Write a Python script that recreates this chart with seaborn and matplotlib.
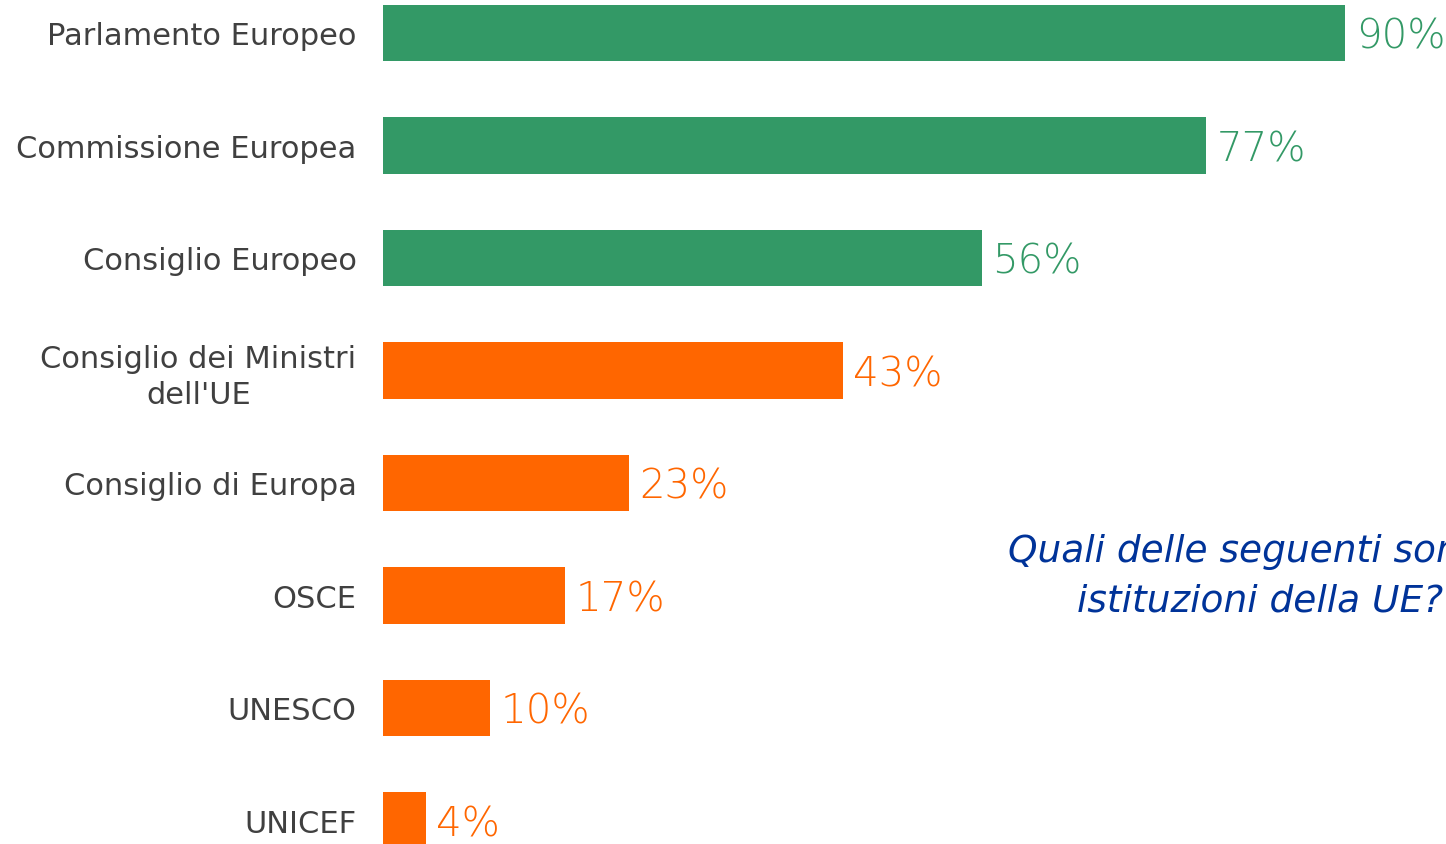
import pandas as pd
import matplotlib.pyplot as plt
import seaborn as sns

categories = ['Parlamento Europeo', 'Commissione Europea', 'Consiglio Europeo',
              "Consiglio dei Ministri\ndell'UE", 'Consiglio di Europa', 'OSCE',
              'UNESCO', 'UNICEF']
values = [90, 77, 56, 43, 23, 17, 10, 4]
is_eu = [True, True, True, False, False, False, False, False]

GREEN = '#339966'
ORANGE = '#FF6600'
colors = [GREEN if e else ORANGE for e in is_eu]

df = pd.DataFrame({'istituzione': categories, 'pct': values})

sns.set_theme(style='white')
plt.rcParams['font.family'] = ['DejaVu Sans']

fig = plt.figure(figsize=(14.46, 8.45), dpi=100)
ax = fig.add_axes([383 / 1446, 0, 1 - 383 / 1446, 1])

sns.barplot(data=df, x='pct', y='istituzione', hue='istituzione',
            palette=colors, legend=False, width=0.5, saturation=1,
            linewidth=0, ax=ax)

ax.set_xlim(0, 90 * 1063 / 962)
ax.set_ylim(7.209, -0.302)
ax.set_xlabel('')
ax.set_ylabel('')
ax.set_xticks([])
for s in ax.spines.values():
    s.set_visible(False)

ax.tick_params(axis='y', length=0, pad=19, labelsize=22, labelcolor='#404040')
for lbl in ax.get_yticklabels():
    lbl.set_multialignment('center')
    lbl.set_linespacing(1.3)

for i, (v, c) in enumerate(zip(values, colors)):
    ax.text(v + 1.0, i + 0.03, f'{v}%', color=c, fontsize=29,
            fontweight='light', va='center', ha='left')

fig.text(1008 / 1446, 1 - 552 / 845, 'Quali delle seguenti sono', color='#003399',
         fontsize=27, style='italic', va='center', ha='left')
fig.text(1077 / 1446, 1 - 602 / 845, 'istituzioni della UE?', color='#003399',
         fontsize=27, style='italic', va='center', ha='left')

fig.savefig('out.png', dpi=100)
